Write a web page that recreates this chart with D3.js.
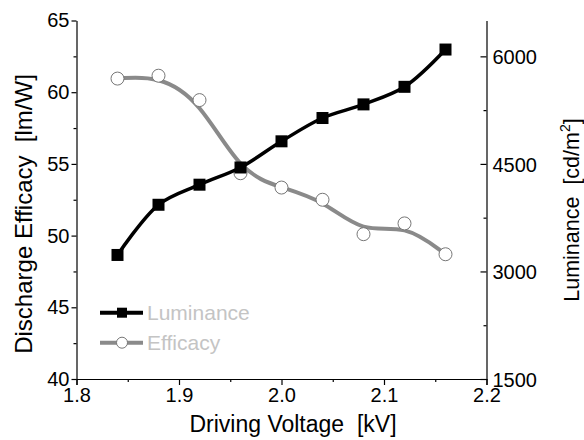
<!DOCTYPE html>
<html><head><meta charset="utf-8">
<script src="https://cdn.jsdelivr.net/npm/d3@7"></script>
<style>body{margin:0;background:#fff}svg{display:block}text{font-family:Arial,"Liberation Sans",sans-serif}</style>
</head><body>
<svg id="c" width="584" height="440"></svg>
<script>
const voltage = [1.84, 1.88, 1.92, 1.96, 2.00, 2.04, 2.08, 2.12, 2.16];
const luminance = [3230, 3930, 4210, 4450, 4815, 5140, 5330, 5575, 6095];
const efficacy = [60.95, 61.15, 59.45, 54.35, 53.35, 52.5, 50.1, 50.85, 48.7];
const xTicks = [1.8, 1.9, 2.0, 2.1, 2.2];
const leftTicks = [40, 45, 50, 55, 60, 65];
const rightTicks = [1500, 3000, 4500, 6000];
const seriesNames = ["Luminance", "Efficacy"];

const svg = d3.select("#c");
const L = 76.5, R = 486.5, T = 20.5, B = 379;
const x = d3.scaleLinear().domain([1.8, 2.2]).range([L, R]);
const yL = d3.scaleLinear().domain([40, 65]).range([B, T]);
const yR = d3.scaleLinear().domain([1500, 6500]).range([B, T]);

const fs = 20;
// bottom axis
svg.append("g").attr("transform", `translate(0,${B})`)
  .call(d3.axisBottom(x).tickValues(xTicks).tickFormat(d3.format(".1f")).tickSize(6).tickPadding(3));
svg.append("g").attr("transform", `translate(0,${B})`)
  .call(d3.axisBottom(x).tickValues(d3.range(1.85, 2.2, 0.1)).tickFormat("").tickSize(3).tickSizeOuter(0))
  .select(".domain").remove();
// left axis
svg.append("g").attr("transform", `translate(${L},0)`)
  .call(d3.axisLeft(yL).tickValues(leftTicks).tickSize(5).tickSizeOuter(0).tickPadding(2));
svg.append("g").attr("transform", `translate(${L},0)`)
  .call(d3.axisLeft(yL).tickValues(d3.range(42.5, 65, 5)).tickFormat("").tickSize(3))
  .select(".domain").remove();
// right axis (ticks inward, labels outside)
const gr = svg.append("g").attr("transform", `translate(${R},0)`)
  .call(d3.axisLeft(yR).tickValues(rightTicks).tickFormat(d3.format("d")).tickSize(6).tickSizeOuter(0));
gr.selectAll(".tick text").attr("text-anchor", "start").attr("x", 6);
svg.append("g").attr("transform", `translate(${R},0)`)
  .call(d3.axisLeft(yR).tickValues(d3.range(2250, 6500, 1500)).tickFormat("").tickSize(3))
  .select(".domain").remove();

svg.selectAll(".domain").attr("stroke", "#000").attr("stroke-width", 1.2);
svg.selectAll(".tick line").attr("stroke", "#000").attr("stroke-width", 1.2);
svg.selectAll(".tick text").attr("font-size", fs).attr("fill", "#000")
  .attr("font-family", "Arial, 'Liberation Sans', sans-serif");
gr.selectAll(".tick text").attr("dy", "0.36em");

// axis titles
svg.append("text").attr("x", 293).attr("y", 432).attr("text-anchor", "middle")
  .attr("font-size", 23).attr("fill", "#000").attr("xml:space", "preserve").text("Driving Voltage  [kV]");
svg.append("text").attr("transform", "translate(32,214) rotate(-90)").attr("text-anchor", "middle")
  .attr("font-size", 24).attr("fill", "#000").attr("xml:space", "preserve").text("Discharge Efficacy  [lm/W]");
const rt = svg.append("text").attr("transform", "translate(579,210) rotate(-90)").attr("text-anchor", "middle")
  .attr("font-size", 21.5).attr("fill", "#000").attr("xml:space", "preserve");
rt.append("tspan").text("Luminance  [cd/m");
rt.append("tspan").attr("font-size", 14).attr("dy", -9).text("2");
rt.append("tspan").attr("dy", 9).text("]");

const data = voltage.map((v, i) => ({v, lum: luminance[i], eff: efficacy[i]}));
const effColor = "#8a8a8a";

// efficacy line
svg.append("path").datum(data)
  .attr("d", d3.line().x(d => x(d.v)).y(d => yL(d.eff)).curve(d3.curveBasis))
  .attr("fill", "none").attr("stroke", effColor).attr("stroke-width", 4);
svg.selectAll("circle.eff").data(data).join("circle").attr("class", "eff")
  .attr("cx", d => x(d.v)).attr("cy", d => yL(d.eff)).attr("r", 6.5)
  .attr("fill", "#fff").attr("stroke", "#777").attr("stroke-width", 1);

// luminance line
svg.append("path").datum(data)
  .attr("d", d3.line().x(d => x(d.v)).y(d => yR(d.lum)).curve(d3.curveCatmullRom))
  .attr("fill", "none").attr("stroke", "#000").attr("stroke-width", 3.5);
svg.selectAll("rect.lum").data(data).join("rect").attr("class", "lum")
  .attr("x", d => x(d.v) - 6).attr("y", d => yR(d.lum) - 6).attr("width", 12).attr("height", 12)
  .attr("fill", "#000");

// legend
const lg = svg.append("g");
const legY = [312.7, 342.7];
lg.append("line").attr("x1", 100).attr("x2", 143).attr("y1", legY[0]).attr("y2", legY[0])
  .attr("stroke", "#000").attr("stroke-width", 4);
lg.append("rect").attr("x", 117).attr("y", legY[0] - 5).attr("width", 10).attr("height", 10).attr("fill", "#000");
lg.append("line").attr("x1", 100).attr("x2", 143).attr("y1", legY[1]).attr("y2", legY[1])
  .attr("stroke", effColor).attr("stroke-width", 4);
lg.append("circle").attr("cx", 122).attr("cy", legY[1]).attr("r", 5.5)
  .attr("fill", "#fff").attr("stroke", "#777").attr("stroke-width", 1);
seriesNames.forEach((n, i) => {
  lg.append("text").attr("x", 147).attr("y", legY[i]).attr("dy", "0.36em")
    .attr("font-size", 21).attr("fill", "#c4c4c4").text(n);
});
</script>
</body></html>
